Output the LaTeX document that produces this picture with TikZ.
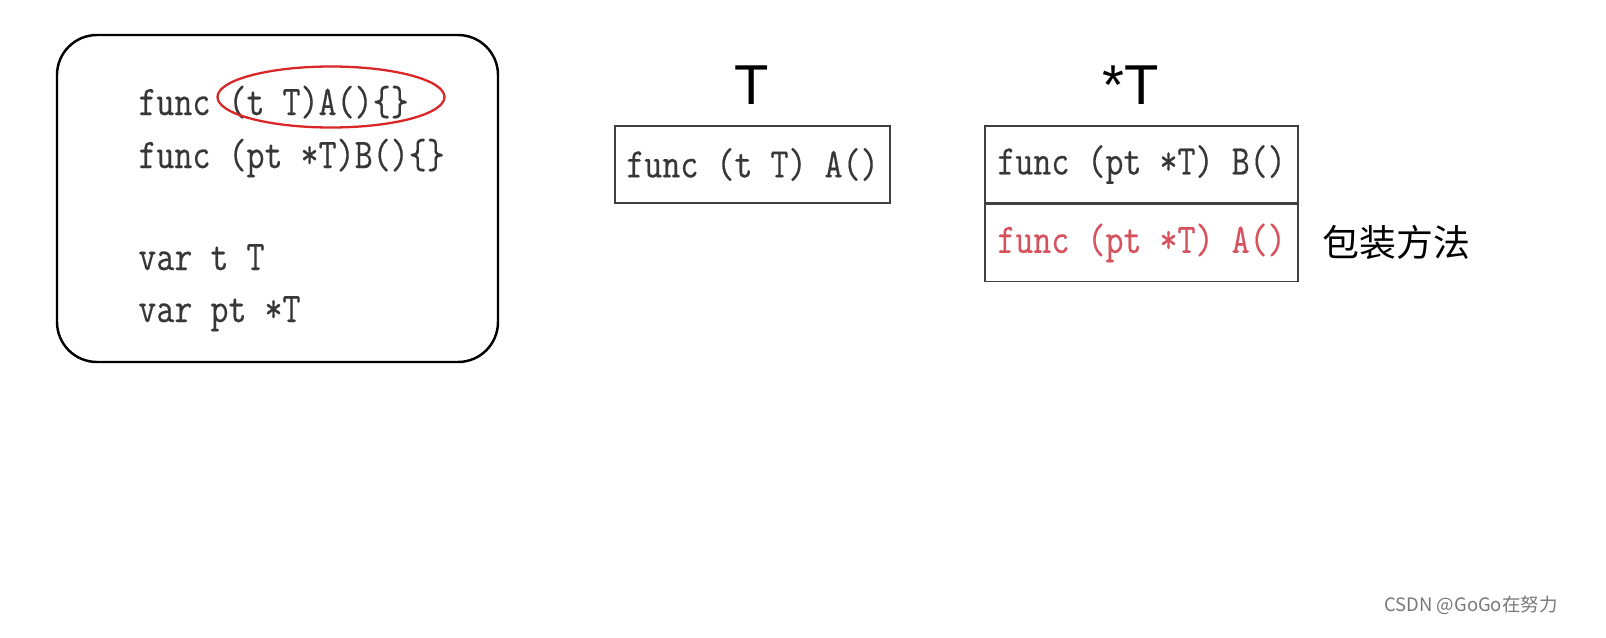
\documentclass[tikz,border=0pt]{standalone}
\usepackage{fontspec}
\usetikzlibrary{positioning}
\newfontfamily\codefont[FakeStretch=0.83, FakeBold=0.35]{Latin Modern Mono}
\newfontfamily\headfont{Liberation Sans}
\newfontfamily\cjkfont{Noto Sans CJK SC}
\definecolor{codegray}{RGB}{55, 55, 55}
\definecolor{wrapred}{RGB}{214, 82, 92}
\definecolor{ringred}{RGB}{218, 38, 38}
\definecolor{markgray}{RGB}{120, 120, 120}

\begin{document}
\begin{tikzpicture}[
  code/.style={font=\codefont\fontsize{24}{28}\selectfont, text=codegray, inner sep=0pt},
  head/.style={font=\headfont\fontsize{32}{36}\selectfont, inner sep=0pt},
  method/.style={draw=black!75, line width=0.8pt, minimum height=1.54cm, inner sep=0pt,
    font=\codefont\fontsize{24}{28}\selectfont, text=codegray}
]
\useasboundingbox (0,0) rectangle (32.12,-12.76);

% Source box
\draw[line width=1.4pt, rounded corners=0.8cm] (1.14,-0.70) rectangle (9.96,-7.24);
\node[code, anchor=base west] (defA) at (2.76,-2.30) {func (t T)A()\{\}};
\node[code, anchor=base west] (defB) at (2.76,-3.36) {func (pt *T)B()\{\}};
\node[code, anchor=base west] (varT) at (2.76,-5.40) {var t T};
\node[code, anchor=base west] (varPT) at (2.76,-6.44) {var pt *T};
\draw[ringred, line width=1.3pt] (6.62,-1.94) ellipse [x radius=2.27, y radius=0.61];

% Method set of T
\node[method, minimum width=5.5cm] (setT) at (15.05,-3.29) {func (t T) A()};
\node[head] (typeT) at (15.04,-1.70) {T};

% Method set of *T
\node[method, minimum width=6.26cm] (ptrB) at (22.83,-3.29) {func (pt *T) B()};
\node[method, minimum width=6.26cm, text=wrapred, below=0pt of ptrB] (ptrA) {func (pt *T) A()};
\node[head] (typePT) at (22.62,-1.70) {*T};
\node[font=\cjkfont\fontsize{21}{25}\selectfont, right=0.35cm of ptrA] (wrap) {包装方法};

% Watermark
\node[font=\cjkfont\fontsize{10.5}{12}\selectfont, text=markgray] (mark) at (29.42,-12.10) {CSDN @GoGo在努力};
\end{tikzpicture}
\end{document}
